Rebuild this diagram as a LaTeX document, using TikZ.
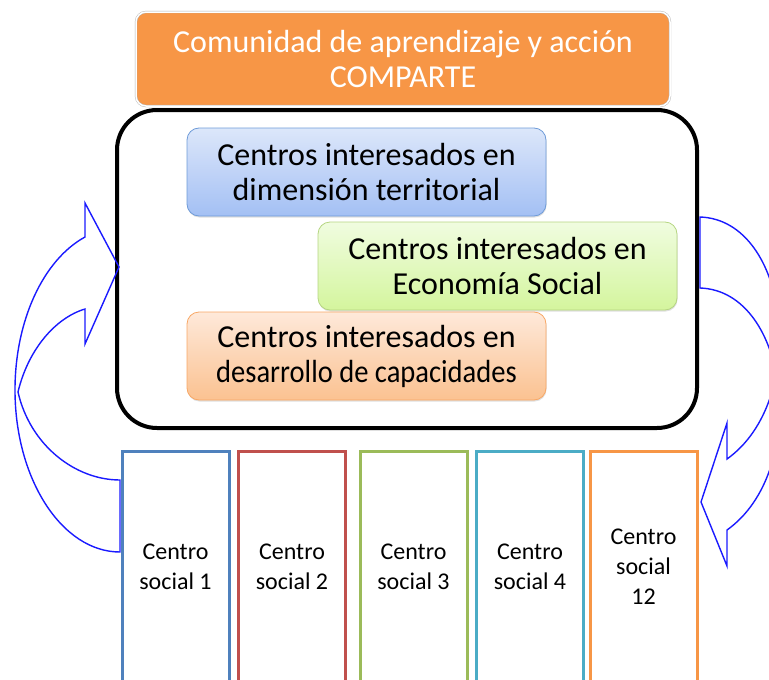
\documentclass[tikz,border=0pt]{standalone}
\usepackage{fontspec}
\setmainfont{Carlito}
\usepackage[HTML]{xcolor}
\usepackage{tikz}
\usetikzlibrary{positioning, shadows}

\definecolor{naranja}{HTML}{F79646}
\definecolor{azul}{HTML}{4F81BD}
\definecolor{rojo}{HTML}{C0504D}
\definecolor{verde}{HTML}{9BBB59}
\definecolor{aqua}{HTML}{4BACC6}
\definecolor{trazo}{HTML}{1A1AFF}
\definecolor{azulborde}{HTML}{6E9BD8}
\definecolor{azularriba}{HTML}{DCE7FA}
\definecolor{azulabajo}{HTML}{A3C0F4}
\definecolor{verdeborde}{HTML}{B5D581}
\definecolor{verdearriba}{HTML}{F0FCE0}
\definecolor{verdeabajo}{HTML}{D4F59D}
\definecolor{naranjaborde}{HTML}{F8A765}
\definecolor{naranjaarriba}{HTML}{FEE9DA}
\definecolor{naranjaabajo}{HTML}{FBC291}

\begin{document}
\begin{tikzpicture}[x=1pt, y=-1pt,
  grupo/.style={rounded corners=12pt, minimum width=359pt, minimum height=88pt,
    inner sep=0pt, align=center, font=\fontsize{32}{35}\selectfont, line width=0.8pt,
    drop shadow={opacity=0.25, shadow xshift=0.5pt, shadow yshift=-1.5pt}},
  centro/.style={minimum width=107pt, minimum height=232pt, inner sep=0pt,
    align=center, line width=3pt, font=\fontsize{24}{30}\selectfont},
  flecha/.style={draw=trazo, line width=1.4pt, line join=miter}]
\clip (0,0) rectangle (769,680);

% big rounded frame
\node[draw, line width=4pt, rounded corners=40pt, minimum width=580pt,
  minimum height=318pt] (marco) at (407,269) {};

% title
\node[fill=naranja, draw=black!30, double=white, double distance=1.5pt,
  rounded corners=10pt, minimum width=534pt, minimum height=94pt, inner sep=0pt,
  align=center, text=white, font=\fontsize{32}{35}\selectfont] (titulo) at (403,59)
  {Comunidad de aprendizaje y acción\\COMPARTE};

% interest groups
\node[grupo, draw=azulborde, top color=azularriba, bottom color=azulabajo]
  (territorial) at (366.5,172) {Centros interesados en\\dimensión territorial};
\node[grupo, draw=verdeborde, top color=verdearriba, bottom color=verdeabajo]
  (economia) at (497.5,266) {Centros interesados en\\Economía Social};
\node[grupo, draw=naranjaborde, top color=naranjaarriba, bottom color=naranjaabajo]
  (capacidades) at (366.5,356)
  {Centros interesados en\\\scalebox{0.892}[1]{desarrollo de capacidades}};

% social centres
\node[centro, draw=azul] (c1) at (175.5,567) {Centro\\social 1};
\node[centro, draw=rojo] (c2) at (292,567) {Centro\\social 2};
\node[centro, draw=verde] (c3) at (413.5,567) {Centro\\social 3};
\node[centro, draw=aqua] (c4) at (530,567) {Centro\\social 4};
\node[centro, draw=naranja] (c12) at (643.5,567) {Centro\\social\\12};

% left curved arrow
\draw[flecha] (120,552) .. controls (62,552) and (15,479) .. (15,390)
  .. controls (15,321) and (43,260) .. (85,237)
  -- (85,203) -- (119,267) -- (85,344) -- (85,309)
  .. controls (55,318) and (28,350) .. (18,392)
  .. controls (30,445) and (75,480) .. (120,480) -- cycle;

% right curved arrow
\draw[flecha] (700,217) .. controls (790,220) and (810,400) .. (727,459)
  -- (727,423) -- (701,502) -- (727,566) -- (727,530)
  .. controls (810,471) and (790,291) .. (700,288) -- cycle;
\end{tikzpicture}
\end{document}
